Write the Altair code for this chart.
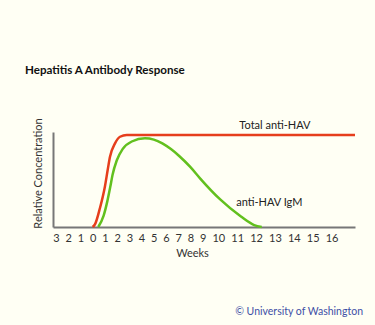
import altair as alt
import pandas as pd

# Data
total_weeks = [0.0, 0.2, 0.6, 1.01, 1.23, 1.42, 1.83, 2.24, 2.79, 17.24]
total_conc = [0.0, 0.03, 0.2, 0.43, 0.6, 0.74, 0.88, 0.95, 0.968, 0.968]

igm_weeks = [0.46, 0.9, 1.2, 1.44, 1.63, 1.97, 2.45, 3.2, 4.28, 5.0, 5.7,
             6.4, 7.1, 8.0, 8.8, 10.1, 11.2, 11.9, 12.3]
igm_conc = [0.0, 0.12, 0.27, 0.42, 0.55, 0.7, 0.82, 0.9, 0.934, 0.92, 0.88,
            0.82, 0.745, 0.63, 0.51, 0.29, 0.11, 0.02, 0.0]

tick_values = list(range(-3, 17))

label_text = ["Total anti-HAV", "anti-HAV IgM"]
label_week = [13.0, 12.7]
label_conc = [1.03, 0.22]

df_total = pd.DataFrame({"week": total_weeks, "conc": total_conc})
df_igm = pd.DataFrame({"week": igm_weeks, "conc": igm_conc})
df_lab = pd.DataFrame({"week": label_week, "conc": label_conc, "text": label_text})

FONT = "Lato"
W, H = 302, 95

xscale = alt.Scale(domain=[-3.24, 9, 10, 17.24], range=[0, 149.7, 165.3, W], nice=False, zero=False)
yscale = alt.Scale(domain=[0, 1], nice=False)

xaxis = alt.Axis(values=tick_values, labelExpr="abs(datum.value)", ticks=False, grid=False,
                 domainColor="#777777", domainWidth=2, labelFont=FONT, labelFontSize=11,
                 labelColor="#333333", labelPadding=5, labelFlush=False, labelOverlap=False,
                 labelBound=False,
                 title="Weeks", titleFont=FONT, titleFontSize=11, titleFontWeight="normal",
                 titleColor="#333333", titleX=139, titleY=29, titleBaseline="alphabetic",
                 titleAlign="center")
yaxis = alt.Axis(labels=False, ticks=False, grid=False, domainColor="#777777", domainWidth=2,
                 title="Relative Concentration", titleFont=FONT, titleFontSize=11,
                 titleFontWeight="normal", titleColor="#333333", titleX=-12, titleY=41,
                 titleAngle=-90, titleAlign="center", titleBaseline="alphabetic")

X = alt.X("week:Q", scale=xscale, axis=xaxis)
Y = alt.Y("conc:Q", scale=yscale, axis=yaxis)

total = alt.Chart(df_total).mark_line(color="#E63E1C", strokeWidth=2.5, interpolate="monotone").encode(
    x=X, y=Y,
)
igm = alt.Chart(df_igm).mark_line(color="#62C01E", strokeWidth=2.5, interpolate="monotone").encode(
    x=X, y=Y,
)
labels = alt.Chart(df_lab).mark_text(font=FONT, fontSize=11, color="#222222",
                                     align="center", baseline="alphabetic").encode(
    x=X, y=Y, text="text:N",
)

title_df = pd.DataFrame({"text": ["Hepatitis A Antibody Response"]})
title = alt.Chart(title_df).mark_text(font=FONT, fontSize=11.6, fontWeight="bold", color="#111111",
                                      align="left", baseline="alphabetic").encode(
    x=alt.value(-28), y=alt.value(-58), text="text:N")

copy_df = pd.DataFrame({"text": ["© University of Washington"]})
copyright = alt.Chart(copy_df).mark_text(font=FONT, fontSize=10.5, color="#3E4FA6",
                                         align="right", baseline="alphabetic").encode(
    x=alt.value(310), y=alt.value(183), text="text:N")

chart = alt.layer(total, igm, labels, title, copyright).properties(
    width=W, height=H,
    autosize=alt.AutoSizeParams(type="none"),
    padding={"left": 53, "top": 132, "right": 20, "bottom": 98},
    background="#FFFFF4",
).configure_view(strokeWidth=0).configure_axis(labelOverlap=False)

chart.save("out.html", embed_options={"renderer": "svg", "actions": False})
